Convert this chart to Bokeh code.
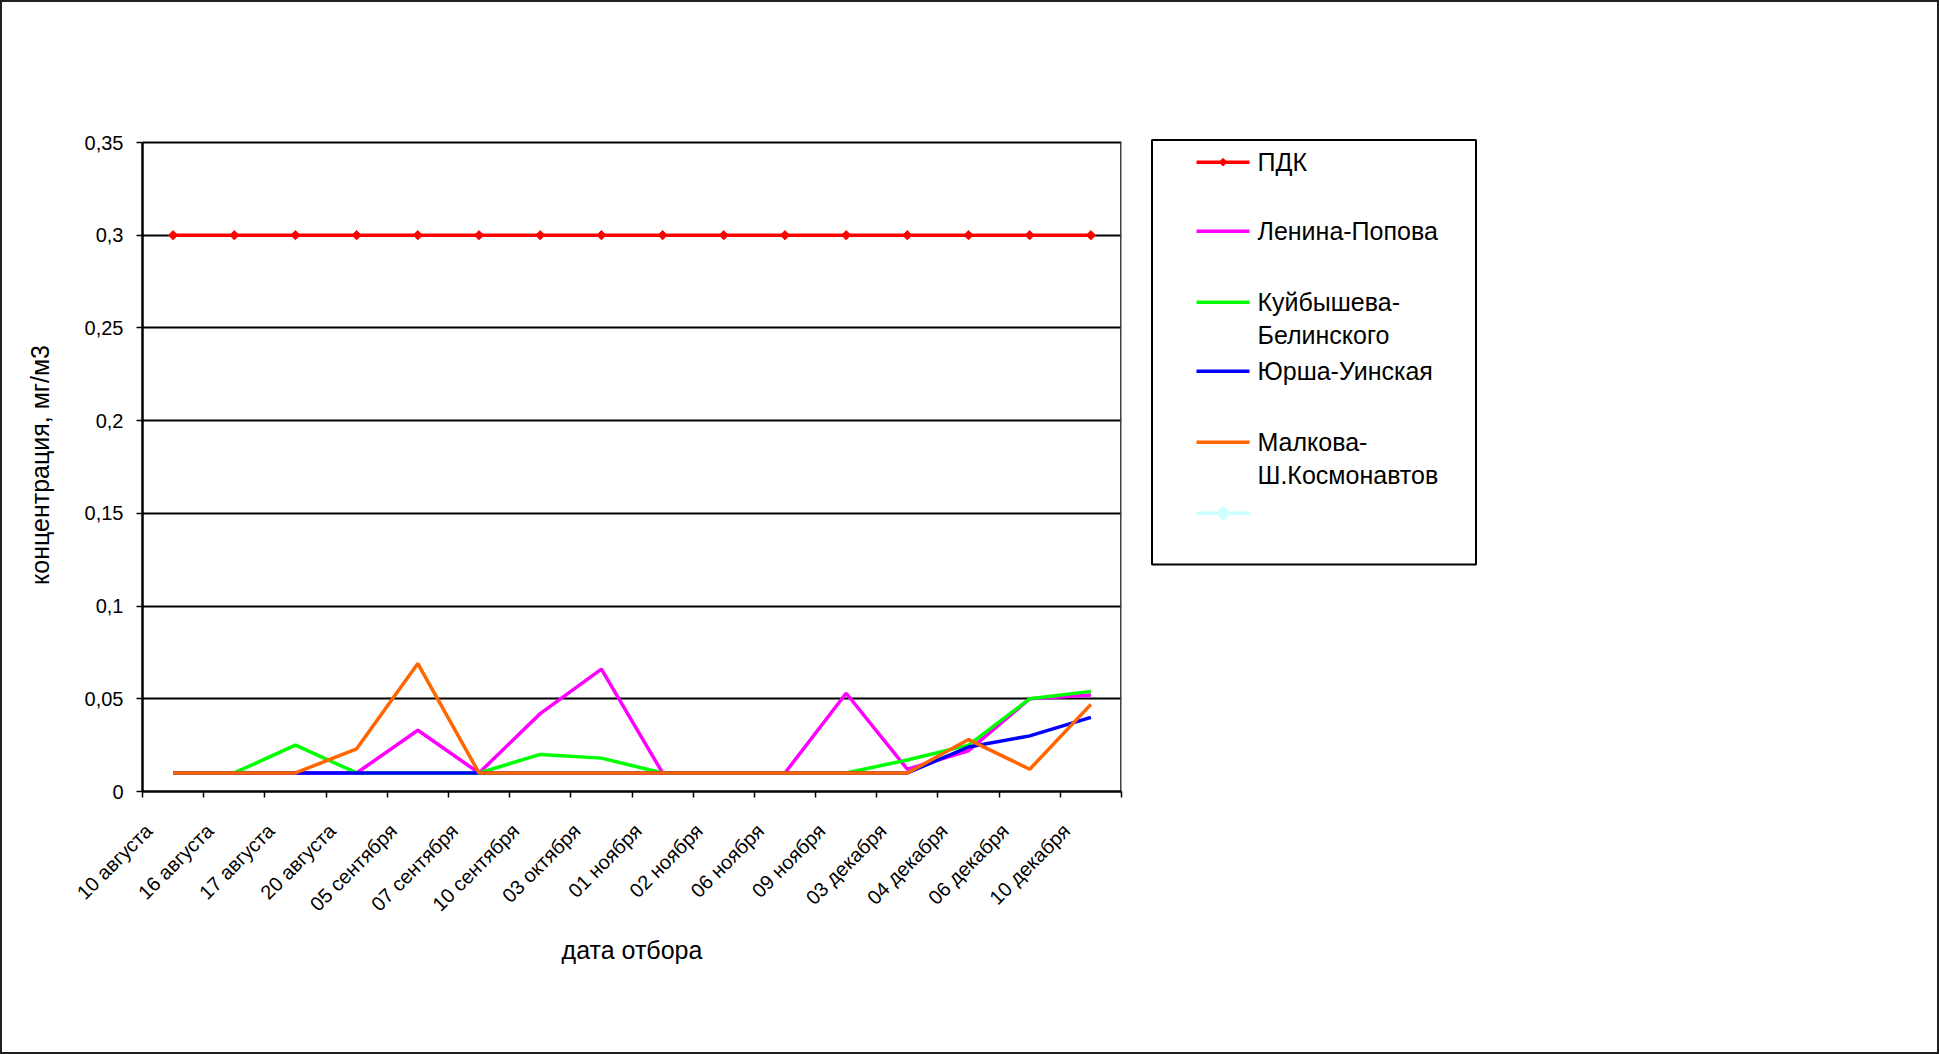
import math

from bokeh.core.properties import value
from bokeh.embed import file_html
from bokeh.layouts import row
from bokeh.models import FixedTicker, Range1d
from bokeh.plotting import figure
from bokeh.resources import INLINE

# --- data -------------------------------------------------------------------
dates = ["10 августа", "16 августа", "17 августа", "20 августа",
         "05 сентября", "07 сентября", "10 сентября", "03 октября",
         "01 ноября", "02 ноября", "06 ноября", "09 ноября",
         "03 декабря", "04 декабря", "06 декабря", "10 декабря"]

pdk = [0.3, 0.3, 0.3, 0.3, 0.3, 0.3, 0.3, 0.3,
       0.3, 0.3, 0.3, 0.3, 0.3, 0.3, 0.3, 0.3]
lenina_popova = [0.01, 0.01, 0.01, 0.01, 0.033, 0.01, 0.042, 0.066,
                 0.01, 0.01, 0.01, 0.053, 0.012, 0.022, 0.05, 0.052]
kuibysheva_belinskogo = [0.01, 0.01, 0.025, 0.01, 0.01, 0.01, 0.02, 0.018,
                         0.01, 0.01, 0.01, 0.01, 0.017, 0.025, 0.05, 0.054]
yursha_uinskaya = [0.01, 0.01, 0.01, 0.01, 0.01, 0.01, 0.01, 0.01,
                   0.01, 0.01, 0.01, 0.01, 0.01, 0.024, 0.03, 0.04]
malkova_kosmonavtov = [0.01, 0.01, 0.01, 0.023, 0.069, 0.01, 0.01, 0.01,
                       0.01, 0.01, 0.01, 0.01, 0.01, 0.028, 0.012, 0.047]

series_names = ["ПДК", "Ленина-Попова", "Куйбышева-Белинского",
                "Юрша-Уинская", "Малкова-Ш.Космонавтов", ""]
legend_lines = [["ПДК"], ["Ленина-Попова"], ["Куйбышева-", "Белинского"],
                ["Юрша-Уинская"], ["Малкова-", "Ш.Космонавтов"], [""]]
series_colors = ["#FF0000", "#FF00FF", "#00FF00", "#0000FF", "#FF6600", "#CCFFFF"]

y_max = 0.35
y_ticks = [0, 0.05, 0.1, 0.15, 0.2, 0.25, 0.3, 0.35]
y_tick_labels = ["0", "0,05", "0,1", "0,15", "0,2", "0,25", "0,3", "0,35"]

x_title = "дата отбора"
y_title = "концентрация, мг/м3"

FONT = "Liberation Sans"
PAGE_W, PAGE_H = 1939, 1054
EDGE = 2                      # page border width
INNER_W, INNER_H = PAGE_W - 2 * EDGE, PAGE_H - 2 * EDGE
MAIN_W = 1133
# page pixels: plot area edges, and the top of the drawing frame shared with the legend
PLOT_L, PLOT_R, PLOT_T, PLOT_B = 142, 1121, 142, 791
FRAME_T = 138

# --- main chart -------------------------------------------------------------
xs = list(range(len(dates)))
n = len(dates)

# the frame reaches a few pixels above the plot area so the legend box fits;
# the value range is stretched by the same amount so y_max sits on the plot top
y_end = y_max * (PLOT_B - FRAME_T) / (PLOT_B - PLOT_T)

p = figure(width=MAIN_W, height=INNER_H, output_backend="svg", toolbar_location=None,
           x_range=Range1d(-0.5, n - 0.5), y_range=Range1d(0, y_end),
           min_border_left=PLOT_L - EDGE, min_border_right=MAIN_W - (PLOT_R - EDGE),
           min_border_top=FRAME_T - EDGE, min_border_bottom=INNER_H - (PLOT_B - EDGE))
p.background_fill_color = "white"
p.border_fill_color = "white"
p.outline_line_color = None

# x axis: slanted date labels ending just left of each category centre,
# tick marks on the category boundaries
label_pos = [i - 0.4 for i in xs]
p.xaxis.ticker = FixedTicker(ticks=label_pos,
                             minor_ticks=[i - 0.5 for i in range(n + 1)])
p.xaxis.major_label_overrides = {t: d for t, d in zip(label_pos, dates)}
p.xaxis.major_label_orientation = math.pi / 4
p.xaxis.major_tick_out = 0
p.xaxis.major_tick_in = 0
p.xaxis.minor_tick_out = 6
p.xaxis.minor_tick_in = 0
p.xaxis.minor_tick_line_color = "black"
p.xaxis.minor_tick_line_width = 1.5
p.xaxis.major_label_standoff = 30
p.xaxis.axis_label = x_title
p.xaxis.axis_label_standoff = 10

p.yaxis.ticker = FixedTicker(ticks=y_ticks)
p.yaxis.bounds = (0, y_max)
p.yaxis.major_label_overrides = {t: s for t, s in zip(y_ticks, y_tick_labels)}
p.yaxis.major_tick_out = 6
p.yaxis.major_tick_in = 0
p.yaxis.minor_tick_out = 0
p.yaxis.minor_tick_in = 0
p.yaxis.major_tick_line_width = 1.5
p.yaxis.major_label_standoff = 13
p.yaxis.axis_label = y_title
p.yaxis.axis_label_standoff = 28

for ax in (p.xaxis, p.yaxis):
    ax.axis_line_color = "black"
    ax.axis_line_width = 2.5
    ax.major_tick_line_color = "black"
    ax.major_label_text_font = FONT
    ax.major_label_text_font_size = "20px"
    ax.major_label_text_color = "black"
    ax.axis_label_text_font = FONT
    ax.axis_label_text_font_size = "25px"
    ax.axis_label_text_font_style = "normal"
    ax.axis_label_text_color = "black"

p.xgrid.visible = False
p.ygrid.ticker = FixedTicker(ticks=y_ticks)
p.ygrid.grid_line_color = "black"
p.ygrid.grid_line_width = 2

# right-hand border of the plot area
p.segment(x0=[n - 0.5], y0=[0], x1=[n - 0.5], y1=[y_max],
          line_color="#404040", line_width=3)

series_values = [pdk, lenina_popova, kuibysheva_belinskogo, yursha_uinskaya, malkova_kosmonavtov]
for vals, color in zip(series_values, series_colors):
    p.line(xs, vals, line_color=color, line_width=3.5)
    if vals is pdk:
        p.scatter(xs, vals, marker="square", angle=math.pi / 4, size=6.5,
                  fill_color=color, line_color=color)

# --- legend panel; its ranges are page pixels (frame shares the chart's rows) --
q = figure(width=INNER_W - MAIN_W, height=INNER_H, output_backend="svg", toolbar_location=None,
           x_range=Range1d(MAIN_W + EDGE, PAGE_W - EDGE), y_range=Range1d(PLOT_B, FRAME_T),
           min_border_left=0, min_border_right=0,
           min_border_top=FRAME_T - EDGE, min_border_bottom=INNER_H - (PLOT_B - EDGE),
           x_axis_type=None, y_axis_type=None)
q.grid.visible = False
q.outline_line_color = None
q.background_fill_color = "white"
q.border_fill_color = "white"

q.quad(left=1151.5, right=1475.5, top=139.5, bottom=564, fill_color=None,
       line_color="black", line_width=2)

row_y = [161.7, 230.7, 301.7, 370.7, 441.7, 512.7]
sample_x0, sample_x1, text_x = 1196, 1249, 1257
for name, lines, color, y in zip(series_names, legend_lines, series_colors, row_y):
    q.line([sample_x0, sample_x1], [y, y], line_color=color, line_width=3.5)
    if name == "ПДК":
        q.scatter([(sample_x0 + sample_x1) / 2], [y], marker="square", angle=math.pi / 4,
                  size=5.5, fill_color=color, line_color=color)
    if name == "":
        q.scatter([(sample_x0 + sample_x1) / 2], [y], marker="square", angle=math.pi / 4,
                  size=10, fill_color=color, line_color=color)
    for k, txt in enumerate(lines):
        if txt:
            q.text([text_x], [y + 33 * k], text=[txt], text_font=value(FONT),
                   text_font_size="25px", text_color="black",
                   text_align="left", text_baseline="middle")

layout = row(p, q, styles={"border": f"{EDGE}px solid #202020"})

open("out.html", "w").write(file_html(layout, INLINE))
